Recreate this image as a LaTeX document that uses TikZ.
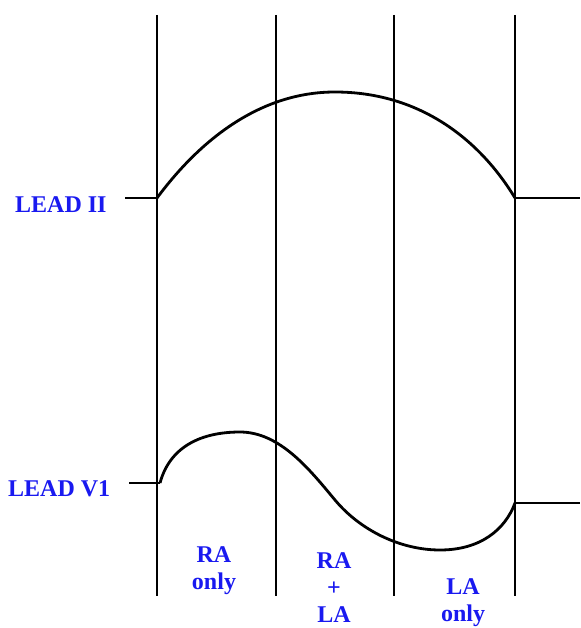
\documentclass[tikz,border=0pt]{standalone}
\usepackage{fontspec}
\setmainfont{Liberation Serif}
\usetikzlibrary{positioning}
\begin{document}
\begin{tikzpicture}[
  x=1pt, y=-1pt,
  grid/.style={black, line width=1.6pt},
  trace/.style={black, line width=2.8pt, line join=round},
  stub/.style={black, line width=2.8pt},
  lead/.style={font=\fontsize{24}{27}\selectfont\bfseries, text=leadblue, inner sep=0pt},
  zone/.style={lead, align=center, anchor=north},
]
\definecolor{leadblue}{RGB}{25,25,240}
\useasboundingbox (0,0) rectangle (580,628);
% the four vertical time marks
\foreach \x/\n in {157/a,276/b,394/c,515/d}
  \draw[grid] (\x,15) coordinate (\n top) -- (\x,596) coordinate (\n bot);
% lead II: one broad positive wave
\coordinate (ii in) at (157,198);
\coordinate (ii out) at (515,198);
\draw[stub] (125,198) -- (ii in);
\draw[stub] (ii out) -- (580,198);
\draw[trace] (ii in) .. controls (200,140) and (260,92) .. (335,92)
  .. controls (420,92) and (480,140) .. (ii out);
\node[lead, anchor=base west] (lead ii) at (15,212) {LEAD II};
% lead V1: positive then negative, ends above the baseline
\coordinate (v1 in) at (160,483);
\coordinate (v1 out) at (515,503);
\draw[stub] (129,483) -- (v1 in);
\draw[stub] (v1 out) -- (580,503);
\draw[trace] (v1 in) .. controls (170,446) and (202,432) .. (240,432)
  .. controls (280,432) and (310,470) .. (335,500)
  .. controls (360,530) and (400,550) .. (440,550)
  .. controls (480,550) and (505,530) .. (v1 out);
\node[lead, anchor=base west] (lead v1) at (8,496) {LEAD V1};
% which atrium is active in each interval
\node[zone] (ra only) at (214,546) {RA\\only};
\node[zone] (ra la) at (334,552) {RA\\+\\LA};
\node[zone] (la only) at (463,578) {LA\\only};
\end{tikzpicture}
\end{document}
